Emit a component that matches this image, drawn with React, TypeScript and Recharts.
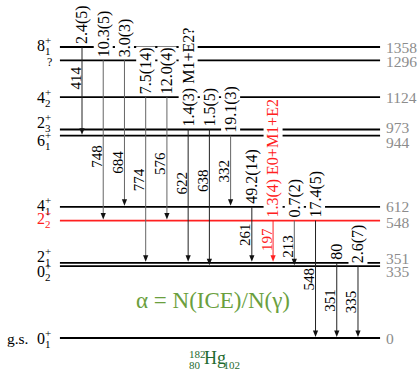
import React from "react";
import { ScatterChart, Scatter, XAxis, YAxis, ReferenceLine, Customized } from "recharts";

// levels of 182Hg (keV), top to bottom
const levelEnergies = [1358, 1296, 1124, 973, 944, 612, 548, 351, 335, 0];
const levelSpins = ["8", "?", "4", "2", "6", "4", "2", "2", "0", "0"];
const levelIndices = ["1", "", "2", "3", "1", "1", "2", "1", "2", "1"];

// gamma transitions, left to right
const gammaEnergies = [414, 748, 684, 774, 576, 622, 638, 332, 261, 197, 213, 548, 351, 335];
const gammaFrom = [1358, 1296, 1296, 1124, 1124, 973, 973, 944, 612, 548, 548, 548, 351, 335];
const gammaTo = [944, 548, 612, 351, 548, 351, 335, 612, 351, 351, 335, 0, 0, 0];
const alphaLabels = [
  "2.4(5)", "10.3(5)", "3.0(3)", "7.5(14)", "12.0(4)", "1.4(3) M1+E2?", "1.5(5)",
  "19.1(3)", "49.2(14)", "1.3(4) E0+M1+E2", "0.7(2)", "17.4(5)", "80", "2.6(7)",
];

const W = 420;
const H = 374;
const FONT = "'Liberation Serif', 'Times New Roman', 'DejaVu Serif', serif";
const RED = "#ff2020";
const PX_PER_KEV = 291 / 1358;
const COL = 21.23;
const X_DOMAIN = [-82 / COL, (W - 82) / COL];
const Y_DOMAIN = [-(H - 338) / PX_PER_KEV, 338 / PX_PER_KEV];
const LEVEL_X = [-1.04, 14.04];
// vertical nudges (px) so the stacked labels of close levels do not collide
const SPIN_SHIFT = [-2, 3, 0, -7, 5, -1, -2, -6, 5, 0];
const RIGHT_SHIFT = [0, 1.5, 0, -2.5, 6.5, 0, 1.5, -4.5, 5.5, 0];
const ENERGY_SHIFT = [-13, 16, 29, 0, 5, -13, -17, 0, 0, -2, 3, 0, 0, 0];
const GRAY_GAMMAS = [748, 684, 774, 576, 332, 213];
const RED_LEVEL = 548;
const RED_GAMMA = 197;
const LABEL_SIZE = 16;

const EM: Record<string, number> = {
  ".": 0.25, "(": 0.333, ")": 0.333, " ": 0.25, M: 0.889, E: 0.611, "+": 0.564, "?": 0.444,
};
const textLen = (s: string, size: number) =>
  s.split("").reduce((a, ch) => a + (EM[ch] ?? 0.5), 0) * size;

const T = (size: number, fill: string) => ({ fontFamily: FONT, fontSize: size, fill });

function renderLevel(p: any, i: number) {
  const { x1, y1, x2 } = p;
  const c = levelEnergies[i] === RED_LEVEL ? RED : "#000";
  const ly = y1 + SPIN_SHIFT[i];
  const spin = levelSpins[i];
  return (
    <g>
      <line x1={x1} y1={y1} x2={x2} y2={y1} stroke={c} strokeWidth={1.8} />
      {spin === "?" ? (
        <text x={x1 - 13} y={ly + 3} style={T(12, "#000")}>?</text>
      ) : (
        <text style={T(16, c)}>
          <tspan x={x1 - 23} y={ly + 5.5}>{spin}</tspan>
          <tspan x={x1 - 15} y={ly - 1.5} style={{ fontSize: 11 }}>+</tspan>
          <tspan x={x1 - 15} y={ly + 9.5} style={{ fontSize: 11 }}>{levelIndices[i]}</tspan>
        </text>
      )}
      {levelEnergies[i] === 0 && (
        <text x={x1 - 53} y={ly + 5.5} style={T(15.5, "#000")}>g.s.</text>
      )}
      <text x={x2 + 6} y={y1 + RIGHT_SHIFT[i] + 5.5} style={T(15.5, "#8c8c8c")}>
        {levelEnergies[i]}
      </text>
    </g>
  );
}

function renderGamma(p: any, i: number) {
  const { x1, y1, y2 } = p;
  const e = gammaEnergies[i];
  const red = e === RED_GAMMA;
  const lineColor = red ? RED : GRAY_GAMMAS.includes(e) ? "#666" : "#222";
  const txt = red ? RED : "#000";
  const label = alphaLabels[i];
  const len = textLen(label, LABEL_SIZE);
  const bottom = y1 - 2;
  const mid = (y1 + y2) / 2 + ENERGY_SHIFT[i];
  return (
    <g>
      <line x1={x1} y1={y1} x2={x1} y2={y2 - 4} stroke={lineColor} strokeWidth={1} />
      <rect x={x1 - 9.5} y={bottom - len - 2} width={19} height={len + 2} fill="#fff" />
      <text
        transform={`translate(${x1 + 5.4},${bottom - 1}) rotate(-90)`}
        style={T(LABEL_SIZE, txt)}
      >
        {label}
      </text>
      <text
        transform={`translate(${x1 - 1.5},${mid}) rotate(-90)`}
        textAnchor="middle"
        style={T(15, txt)}
      >
        {e}
      </text>
    </g>
  );
}

function ArrowHead(p: any) {
  const { cx, cy, payload } = p;
  const c = payload.e === RED_GAMMA ? RED : "#111";
  const tip = cy - 1;
  return <path d={`M${cx - 2.6},${tip - 6.5} L${cx + 2.6},${tip - 6.5} L${cx},${tip} Z`} fill={c} />;
}

const Titles = () => (
  <g>
    <text x={213} y={308} textAnchor="middle" style={T(23, "#6b9f3e")}>
      α = N(ICE)/N(γ)
    </text>
    <text style={T(18, "#1f6b2f")}>
      <tspan x={189} y={358} style={{ fontSize: 11 }}>182</tspan>
      <tspan x={189} y={368.5} style={{ fontSize: 11 }}>80</tspan>
      <tspan x={204} y={364}>Hg</tspan>
      <tspan x={223.5} y={368.5} style={{ fontSize: 11 }}>102</tspan>
    </text>
  </g>
);

export default function App() {
  const arrows = gammaTo.map((to, i) => ({ x: i, y: to, e: gammaEnergies[i] }));
  return (
    <div style={{ position: "absolute", left: 0, top: 0, width: W, height: H, background: "#fff" }}>
      <ScatterChart width={W} height={H} margin={{ top: 0, right: 0, bottom: 0, left: 0 }}>
        <XAxis type="number" dataKey="x" domain={X_DOMAIN} allowDataOverflow hide />
        <YAxis type="number" dataKey="y" domain={Y_DOMAIN} allowDataOverflow hide />
        {levelEnergies.map((E, i) => (
          <ReferenceLine
            key={`lv${E}`}
            segment={[{ x: LEVEL_X[0], y: E }, { x: LEVEL_X[1], y: E }]}
            shape={(p: any) => renderLevel(p, i)}
          />
        ))}
        {gammaEnergies.map((e, i) => (
          <ReferenceLine
            key={`g${e}`}
            segment={[{ x: i, y: gammaFrom[i] }, { x: i, y: gammaTo[i] }]}
            shape={(p: any) => renderGamma(p, i)}
          />
        ))}
        <Scatter data={arrows} shape={ArrowHead} isAnimationActive={false} />
        <Customized component={Titles} />
      </ScatterChart>
    </div>
  );
}
